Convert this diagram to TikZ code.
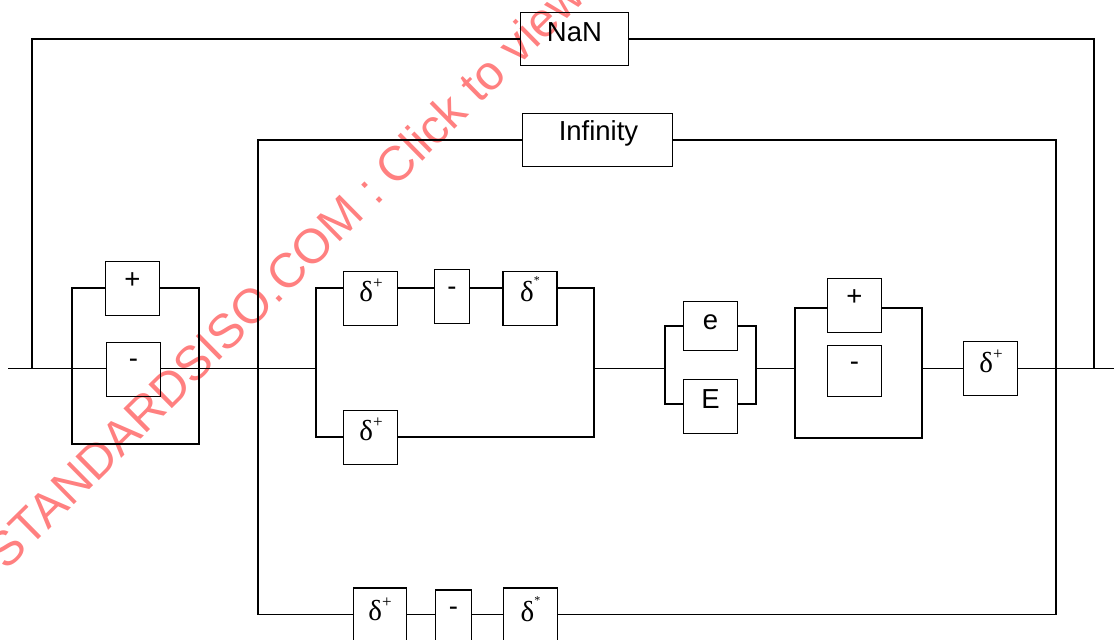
\documentclass[tikz,border=0pt]{standalone}
\usepackage{fontspec}
\setmainfont{Liberation Sans}
\newfontfamily\serifd{Liberation Serif}
\usetikzlibrary{calc}
\definecolor{wmred}{RGB}{255,128,128}
\newcommand{\dplus}{{\serifd\fontsize{29}{30}\selectfont δ\raisebox{13pt}{\fontsize{17}{17}\selectfont +}}}
\newcommand{\dstar}{{\serifd\fontsize{29}{30}\selectfont δ\raisebox{17pt}{\fontsize{12}{12}\selectfont *}}}
\begin{document}
\begin{tikzpicture}[x=1pt,y=-1pt,line width=1.6pt,
  box/.style={draw,rectangle,inner sep=0pt,line width=1.8pt},
  lbl/.style={inner sep=0pt,font=\fontsize{27.5}{30}\selectfont},
  wm/.style={inner sep=0pt,text=wmred,font=\fontsize{48.5}{50}\selectfont}]
\useasboundingbox (0,0) rectangle (1114,640);
\fill[white] (0,0) rectangle (1114,640);
% watermark
\node[wm,rotate=44.6,anchor=base west] (wmark) at (6,572) {STANDARDSISO.COM : Click to view};
% boxes
\node[box,minimum width=108pt,minimum height=53pt] (nan) at (574.5,39) {};
\node[box,minimum width=150pt,minimum height=53pt] (inf) at (597.5,140) {};
\node[box,minimum width=54pt,minimum height=54pt] (s1p) at (132.5,288.5) {};
\node[box,minimum width=54pt,minimum height=54pt] (s1m) at (133.5,369.5) {};
\node[box,minimum width=54pt,minimum height=54pt] (d1) at (370.5,298.5) {};
\node[box,minimum width=35pt,minimum height=54pt] (m1) at (452,296.5) {};
\node[box,minimum width=54pt,minimum height=54pt] (d2) at (530,298.5) {};
\node[box,minimum width=54pt,minimum height=54pt] (d3) at (370.5,437.5) {};
\node[box,minimum width=54pt,minimum height=49pt] (e) at (710.5,326) {};
\node[box,minimum width=54pt,minimum height=54pt] (E) at (710.5,406.5) {};
\node[box,minimum width=54pt,minimum height=54pt] (s2p) at (854.5,305.5) {};
\node[box,minimum width=54pt,minimum height=51pt] (s2m) at (854.5,371) {};
\node[box,minimum width=54pt,minimum height=54pt] (d4) at (990.5,368.5) {};
\node[box,minimum width=53pt,minimum height=54pt] (d5) at (380,615) {};
\node[box,minimum width=36pt,minimum height=54pt] (m2) at (453.5,617) {};
\node[box,minimum width=54pt,minimum height=54pt] (d6) at (530.5,615) {};
% labels
\node[lbl] (nanT) at (574.5,32.5) {NaN};
\node[lbl] (infT) at (598.5,133) {Infinity};
\node[lbl] (s1pT) at (132.5,281) {+};
\node[lbl] (s1mT) at (133.5,363.5) {-};
\node[lbl] (d1T) at (371,290) {\dplus};
\node[lbl] (m1T) at (452,291.7) {-};
\node[lbl] (d2T) at (530,289) {\dstar};
\node[lbl] (d3T) at (371,429) {\dplus};
\node[lbl] (eT) at (710.5,322) {e};
\node[lbl] (ET) at (710.5,399) {E};
\node[lbl] (s2pT) at (854.5,298) {+};
\node[lbl] (s2mT) at (854.5,366.7) {-};
\node[lbl] (d4T) at (991,361.4) {\dplus};
\node[lbl] (d5T) at (380,609.5) {\dplus};
\node[lbl] (m2T) at (453.5,611.7) {-};
\node[lbl] (d6T) at (530.5,609) {\dstar};
% coordinates
\coordinate (in) at (8,368.5);
\coordinate (out) at (1114,368.5);
\coordinate (nanL) at (32,368.5);
\coordinate (nanR) at (1094,368.5);
\coordinate (infBL) at (258,614.5);
\coordinate (infBR) at (1056,614.5);
\coordinate (g1TL) at (72,288);
\coordinate (g1BL) at (72,444);
\coordinate (g1TR) at (199,288);
\coordinate (g1BR) at (199,444);
\coordinate (dL) at (316,368.5);
\coordinate (dR) at (594,368.5);
\coordinate (dTL) at (316,288);
\coordinate (dBL) at (316,437);
\coordinate (dTR) at (594,288);
\coordinate (dBR) at (594,437);
\coordinate (eL) at (665,368.5);
\coordinate (eR) at (756,368.5);
\coordinate (eTL) at (665,326);
\coordinate (eBL) at (665,404);
\coordinate (eTR) at (756,326);
\coordinate (eBR) at (756,404);
\coordinate (s2L) at (795,368.5);
\coordinate (s2R) at (922,368.5);
\coordinate (gTL) at (795,308);
\coordinate (gBL) at (795,438);
\coordinate (gTR) at (922,308);
\coordinate (gBR) at (922,438);
% main line
\draw (in) -- (in -| s1m.west);
\draw (in -| s1m.east) -- (dL);
\draw (dR) -- (eL);
\draw (eR) -- (s2L);
\draw (s2R) -- (in -| d4.west);
\draw (in -| d4.east) -- (out);
% NaN loop
\draw (nanL) |- (nan.west);
\draw (nan.east) -| (nanR);
% Infinity loop
\draw (inf.west) -| (infBL) -- (infBL -| d5.west);
\draw (infBL -| d5.east) -- (infBL -| m2.west);
\draw (infBL -| m2.east) -- (infBL -| d6.west);
\draw (infBL -| d6.east) -- (infBR) |- (inf.east);
% sign group 1
\draw (g1TL -| s1p.west) -- (g1TL) -- (g1BL) -- (g1BR) -- (g1TR) -- (g1TR -| s1p.east);
% digit group
\draw (dTL -| d1.west) -- (dTL) -- (dBL) -- (dBL -| d3.west);
\draw (dTL -| d1.east) -- (dTL -| m1.west);
\draw (dTL -| m1.east) -- (dTL -| d2.west);
\draw (dTR -| d2.east) -- (dTR) -- (dBR) -- (dBR -| d3.east);
% e/E group
\draw (eTL -| e.west) -- (eTL) -- (eBL) -- (eBL -| E.west);
\draw (eTR -| e.east) -- (eTR) -- (eBR) -- (eBR -| E.east);
% sign group 2
\draw (gTL -| s2p.west) -- (gTL) -- (gBL) -- (gBR) -- (gTR) -- (gTR -| s2p.east);
\end{tikzpicture}
\end{document}
